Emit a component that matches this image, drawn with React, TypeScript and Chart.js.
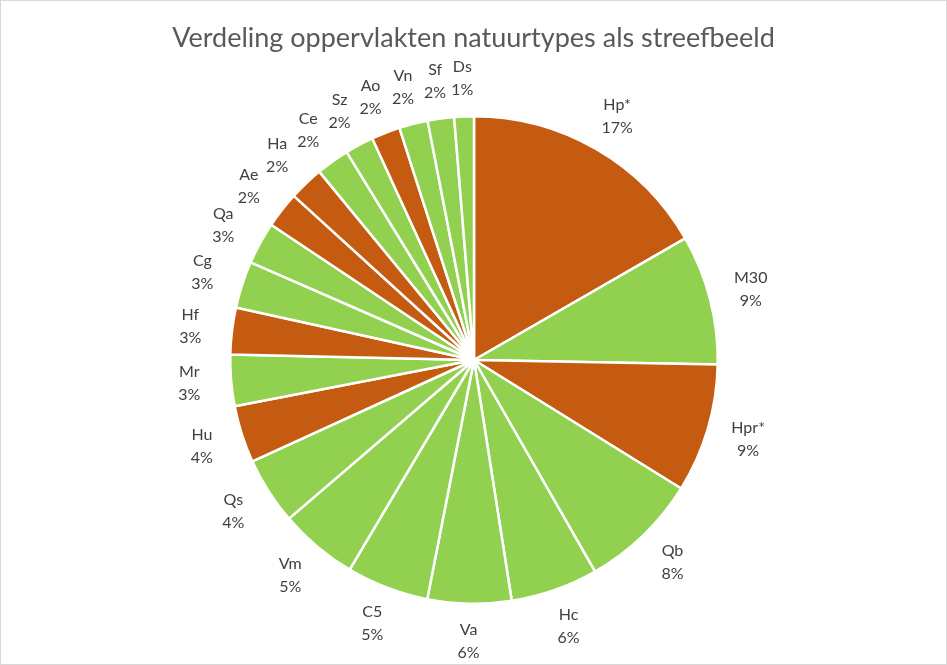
import React, { useEffect, useRef } from "react";
import { Chart, registerables } from "chart.js";

Chart.register(...registerables);

const TITLE = "Verdeling oppervlakten natuurtypes als streefbeeld";
const categories = ["Hp*", "M30", "Hpr*", "Qb", "Hc", "Va", "C5", "Vm", "Qs", "Hu", "Mr", "Hf", "Cg", "Qa", "Ae", "Ha", "Ce", "Sz", "Ao", "Vn", "Sf", "Ds"];
const values = [16.7, 8.6, 8.55, 7.9, 5.8, 5.55, 5.45, 5.2, 4.45, 3.8, 3.4, 3.1, 3.1, 2.8, 2.4, 2.3, 2.2, 1.9, 1.9, 1.9, 1.75, 1.3];
const groups = ["o", "g", "o", "g", "g", "g", "g", "g", "g", "o", "g", "o", "g", "g", "o", "o", "g", "g", "o", "g", "g", "g"];

const ORANGE = "#C55A11";
const GREEN = "#92D050";

const labelPlugin = {
  id: "outLabels",
  afterDraw(chart: any) {
    const ctx = chart.ctx;
    const meta = chart.getDatasetMeta(0);
    const total = values.reduce((a, b) => a + b, 0);
    ctx.save();
    ctx.fillStyle = "#595959";
    ctx.font = "27px Lato, 'Open Sans', sans-serif";
    ctx.textAlign = "center";
    ctx.textBaseline = "middle";
    ctx.fillText(TITLE, chart.width / 2, 37);

    ctx.fillStyle = "#404040";
    ctx.font = "16px Lato, 'Open Sans', sans-serif";
    meta.data.forEach((arc: any, i: number) => {
      const p = arc.getProps(["x", "y", "startAngle", "endAngle", "outerRadius"], true);
      const mid = (p.startAngle + p.endAngle) / 2;
      const rr = p.outerRadius + 38;
      const cx = p.x + Math.cos(mid) * rr + Math.cos(mid) * 4;
      const cy = p.y + Math.sin(mid) * rr;
      const pct = Math.round((values[i] / total) * 100) + "%";
      ctx.fillText(categories[i], cx, cy - 11.5);
      ctx.fillText(pct, cx, cy + 11.5);
    });
    ctx.restore();
  },
};

export default function App() {
  const ref = useRef<HTMLCanvasElement>(null);
  useEffect(() => {
    document.body.style.margin = "0";
    const chart = new Chart(ref.current as HTMLCanvasElement, {
      type: "pie",
      data: {
        labels: categories,
        datasets: [
          {
            data: values,
            backgroundColor: groups.map((g) => (g === "o" ? ORANGE : GREEN)),
            borderColor: "#ffffff",
            borderWidth: 2.5,
          },
        ],
      },
      options: {
        animation: false,
        responsive: false,
        maintainAspectRatio: false,
        layout: { padding: { top: 114, bottom: 59, left: 228, right: 227 } },
        plugins: {
          legend: { display: false },
          title: { display: false },
          tooltip: { enabled: false },
        },
      },
      plugins: [labelPlugin],
    });
    return () => chart.destroy();
  }, []);
  return (
    <div style={{ position: "relative", width: 947, height: 665, boxSizing: "border-box", border: "1px solid #d9d9d9", background: "#fff" }}>
      <canvas ref={ref} width={945} height={663} style={{ display: "block" }} />
    </div>
  );
}
